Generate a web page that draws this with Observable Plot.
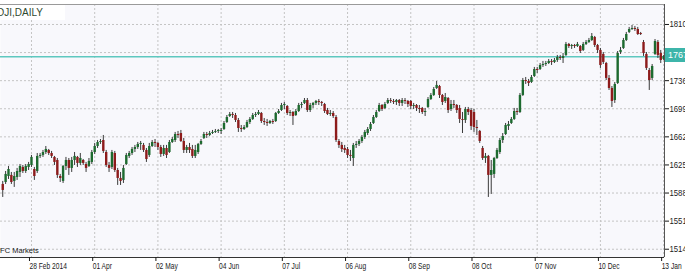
<!DOCTYPE html>
<html><head><meta charset="utf-8">
<script src="https://cdn.jsdelivr.net/npm/d3@7"></script>
<script src="https://cdn.jsdelivr.net/npm/@observablehq/plot@0.6"></script>
<style>
body{margin:0;background:#fff;}
#chart{position:relative;width:685px;height:272px;overflow:hidden;background:#fff;}
#sym{position:absolute;left:0;top:5px;width:65px;height:15px;background:#fff;font:10px 'Liberation Sans',Arial,sans-serif;color:#2f4a2f;line-height:15px;white-space:nowrap;overflow:hidden;}
#sym span{margin-left:-3px;}
#price{position:absolute;left:665px;width:30px;height:14px;background:#3db5aa;color:#fff;font:9px 'Liberation Sans',Arial,sans-serif;line-height:14px;white-space:nowrap;overflow:hidden;}
#price span{display:inline-block;margin-left:3px;}
</style></head><body><div id="chart"><div id="sym"><span></span></div><div id="price"><span></span></div></div>
<script>
const symbol = "DJI,DAILY";
const watermark = "IFC Markets";
const firstDay = "2014-02-13";
const holidays = ["2014-02-17","2014-04-18","2014-05-26","2014-07-04","2014-09-01","2014-11-27","2014-12-25","2015-01-01"];
const tickDates = ["2014-02-28","2014-04-01","2014-05-02","2014-06-04","2014-07-07","2014-08-06","2014-09-08","2014-10-08","2014-11-07","2014-12-10","2015-01-13"];
const tickLabels = ["28 Feb 2014","01 Apr","02 May","04 Jun","07 Jul","06 Aug","08 Sep","08 Oct","07 Nov","10 Dec","13 Jan"];
const yTicks = [15140,15510,15880,16250,16620,16990,17360,17730,18100];

const open = [
15993,16019,16098,16112,16033,16085,16151,16217,16164,16217,
16243,16190,16164,16362,16375,16414,16441,16401,16349,16309,
16098,16033,16230,16309,16204,16309,16349,16270,16309,16256,
16230,16283,16414,16493,16546,16572,16414,16243,16217,16401,
16177,16072,16046,16256,16362,16401,16454,16480,16520,16507,
16441,16375,16493,16546,16533,16480,16388,16467,16414,16546,
16572,16651,16664,16559,16441,16480,16454,16362,16414,16520,
16599,16651,16638,16664,16678,16691,16691,16717,16809,16888,
16915,16901,16836,16730,16717,16743,16809,16849,16901,16915,
16928,16822,16809,16796,16822,16822,16928,16967,17033,17020,
16928,16941,16901,16954,17033,17060,17099,16967,17033,17060,
17086,17073,17046,16967,16915,16928,16875,16559,16507,16467,
16454,16375,16335,16507,16520,16559,16612,16664,16717,16796,
16875,16954,17033,16994,17060,17099,17086,17073,17099,17060,
17099,17086,17086,17020,17033,16994,16994,16941,17007,17112,
17165,17257,17283,17165,17086,17125,16980,17046,17033,16994,
16849,16836,16980,16967,16941,16743,16691,16467,16335,16362,
16112,16125,16335,16414,16572,16651,16757,16796,16849,16954,
16941,17165,17362,17349,17336,17415,17507,17507,17560,17573,
17586,17613,17600,17626,17665,17652,17692,17837,17810,17823,
17810,17810,17758,17837,17863,17889,17929,17823,17758,17705,
17586,17389,17257,17099,17323,17731,17784,17889,17995,18034,
18047,18034,17981,17863,17705,17494,17389,17705,17863,17718,
17639];
const high = [
16033,16164,16230,16151,16151,16204,16256,16243,16256,16283,
16375,16217,16401,16401,16441,16493,16454,16428,16362,16335,
16125,16243,16349,16335,16349,16414,16362,16401,16322,16283,
16335,16441,16533,16572,16585,16638,16441,16283,16441,16428,
16204,16151,16243,16401,16428,16480,16507,16546,16559,16533,
16467,16533,16572,16585,16546,16507,16507,16507,16572,16612,
16678,16691,16704,16599,16507,16533,16507,16507,16533,16585,
16678,16678,16691,16704,16717,16717,16730,16822,16901,16941,
16941,16928,16862,16770,16770,16836,16875,16928,16941,16967,
16941,16862,16849,16836,16849,16941,16980,17060,17073,17033,
16967,16954,16980,17060,17073,17125,17125,17060,17073,17099,
17112,17086,17060,16994,16967,16954,16901,16585,16546,16507,
16480,16441,16533,16559,16585,16638,16704,16743,16809,16901,
16967,17060,17046,17073,17125,17125,17112,17112,17112,17125,
17125,17099,17099,17060,17046,17033,17007,16994,17138,17191,
17270,17349,17297,17178,17191,17138,17099,17099,17046,17033,
16941,17007,17007,16994,16980,16836,16704,16493,16401,16375,
16309,16349,16467,16599,16664,16796,16822,16875,16994,16994,
17191,17389,17402,17376,17428,17534,17534,17586,17613,17613,
17639,17639,17652,17692,17692,17718,17863,17850,17837,17837,
17863,17823,17863,17889,17916,17981,17942,17837,17784,17731,
17600,17428,17283,17336,17744,17797,17916,17995,18061,18087,
18074,18061,17995,17889,17731,17521,17573,17902,17889,17758,
17692];
const low = [
15822,15993,16059,15993,15954,16046,16085,16138,16138,16177,
16217,16046,16138,16335,16349,16388,16375,16335,16243,16072,
16019,16006,16177,16112,16151,16243,16217,16243,16243,16151,
16217,16256,16388,16467,16520,16401,16217,16151,16190,16151,
15980,15980,16006,16243,16335,16375,16414,16454,16441,16414,
16283,16349,16480,16480,16441,16349,16362,16335,16401,16533,
16546,16599,16546,16401,16401,16401,16335,16335,16388,16507,
16585,16599,16625,16651,16664,16664,16651,16704,16796,16875,
16862,16809,16678,16678,16704,16730,16783,16836,16875,16901,
16796,16770,16757,16783,16783,16809,16915,16954,16980,16901,
16888,16770,16888,16941,16994,17046,16941,16941,16994,17033,
17033,17020,16928,16901,16888,16862,16546,16467,16414,16401,
16335,16296,16230,16467,16493,16533,16585,16638,16691,16783,
16862,16941,16954,16980,17046,17060,17046,17033,17020,17020,
17046,17007,16980,16980,16954,16928,16915,16888,16994,17099,
17152,17244,17125,17033,17060,16928,16954,16994,16928,16796,
16664,16796,16901,16704,16678,16638,16533,16309,16270,15822,
15861,16072,16322,16388,16533,16638,16704,16783,16836,16901,
16928,17152,17310,17283,17323,17402,17455,17494,17534,17547,
17573,17560,17586,17600,17626,17586,17679,17784,17771,17784,
17797,17718,17744,17823,17850,17876,17797,17718,17521,17573,
17362,17231,17007,17060,17310,17705,17771,17876,17981,18021,
18008,17955,17955,17679,17494,17231,17362,17692,17652,17586,
17626];
const close = [
15914,16125,16190,16019,16098,16164,16230,16164,16230,16256,
16349,16098,16362,16375,16414,16454,16401,16362,16283,16112,
16072,16230,16309,16204,16309,16362,16270,16335,16270,16204,
16296,16414,16493,16546,16559,16428,16243,16204,16414,16177,
16072,16033,16204,16375,16401,16454,16480,16520,16533,16441,
16322,16493,16546,16533,16480,16388,16467,16375,16546,16585,
16651,16638,16559,16441,16480,16441,16362,16441,16520,16559,
16651,16638,16664,16678,16691,16704,16704,16796,16875,16915,
16901,16836,16730,16717,16743,16809,16849,16901,16915,16941,
16822,16809,16796,16822,16809,16928,16954,17033,17046,16928,
16941,16888,16954,17033,17046,17099,16967,17033,17060,17086,
17073,17060,16954,16915,16928,16888,16572,16507,16454,16441,
16375,16362,16507,16520,16559,16612,16678,16717,16783,16875,
16941,17033,16980,17046,17099,17086,17073,17099,17060,17099,
17086,17046,17020,17033,16994,16980,16941,16954,17112,17165,
17244,17297,17165,17073,17138,16967,17046,17033,16967,16849,
16836,16980,16941,16757,16743,16730,16559,16335,16362,16112,
16177,16335,16441,16572,16625,16770,16783,16849,16954,16941,
17165,17362,17349,17323,17402,17507,17494,17560,17573,17586,
17613,17600,17626,17665,17652,17679,17837,17810,17823,17810,
17837,17744,17837,17863,17889,17942,17823,17758,17560,17600,
17389,17257,17086,17310,17718,17758,17889,17968,18034,18047,
18034,17968,17968,17718,17521,17362,17547,17876,17692,17626,
17675];

// trading calendar (weekends and exchange holidays skipped)
const hol = new Set(holidays);
const dates = [];
let d = new Date(firstDay + "T00:00:00Z");
while (dates.length < close.length) {
  const iso = d.toISOString().slice(0, 10);
  const wd = d.getUTCDay();
  if (wd !== 0 && wd !== 6 && !hol.has(iso)) dates.push(iso);
  d = new Date(+d + 864e5);
}
const bars = close.map((c, i) => ({i, date: dates[i], open: open[i], high: high[i], low: low[i], close: c}));
const tickIdx = tickDates.map(t => dates.indexOf(t));
const lastClose = close[close.length - 1];

const xDomain = [-0.78, 230.3];
const yDomain = [15031, 18363];
const grid = "#c4c4c4";

const plot = Plot.plot({
  width: 685, height: 272,
  marginLeft: 0, marginRight: 21, marginTop: 4, marginBottom: 15,
  style: {background: "transparent", fontFamily: "'Liberation Sans', Arial, sans-serif", fontSize: "9px", color: "#1a1a1a", overflow: "hidden"},
  x: {type: "linear", domain: xDomain, axis: null},
  y: {type: "linear", domain: yDomain, axis: null},
  marks: [
    Plot.frame({fill: "#f8f8fc", stroke: null}),
    Plot.ruleY(yTicks, {stroke: grid, strokeDasharray: "2,2"}),
    Plot.ruleX(tickIdx, {stroke: grid, strokeDasharray: "2,2"}),
    Plot.ruleY([lastClose], {stroke: "#5ec8bf", strokeWidth: 1.6}),
    Plot.ruleX(bars, {x: "i", y1: "low", y2: "high", stroke: "#3a3a3a", strokeWidth: 1}),
    Plot.ruleX(bars, {x: "i", y1: "open", y2: "close", stroke: b => b.close >= b.open ? "#1d6a2f" : "#8d1b1b", strokeWidth: 2.4}),
    Plot.ruleY([yDomain[1]], {stroke: "#9a9a9a"}),
    Plot.ruleY([yDomain[0]], {stroke: "#333"}),
    Plot.ruleX([xDomain[1]], {stroke: "#555"}),
    Plot.axisX({ticks: tickIdx, anchor: "bottom", tickSize: 4, tickPadding: 1, tickFormat: v => tickLabels[tickIdx.indexOf(v)], textAnchor: "start", dx: -2, label: null}),
    Plot.axisY({ticks: yTicks, anchor: "right", tickSize: 4, tickPadding: 1, tickFormat: v => String(v), label: null}),
    Plot.text([watermark], {frameAnchor: "bottom-left", dx: -2.5, dy: -5, textAnchor: "start", fontSize: 7.5, fill: "#222"})
  ]
});
const chart = document.getElementById("chart");
chart.insertBefore(plot, chart.firstChild);
plot.style.position = "absolute"; plot.style.left = "0"; plot.style.top = "0";

// condensed look of the terminal font
function condense(sel, k) {
  plot.querySelectorAll(sel).forEach(t => {
    const w = t.getComputedTextLength();
    t.setAttribute("textLength", (w * k).toFixed(1));
    t.setAttribute("lengthAdjust", "spacingAndGlyphs");
  });
}
condense('g[aria-label="x-axis tick label"] text', 0.74);
condense('g[aria-label="y-axis tick label"] text', 0.86);

document.querySelector("#sym span").textContent = symbol;
const yS = plot.scale("y");
const pb = document.getElementById("price");
pb.style.top = (yS.apply(lastClose) - 8) + "px";
pb.querySelector("span").textContent = String(lastClose);
</script></body></html>
